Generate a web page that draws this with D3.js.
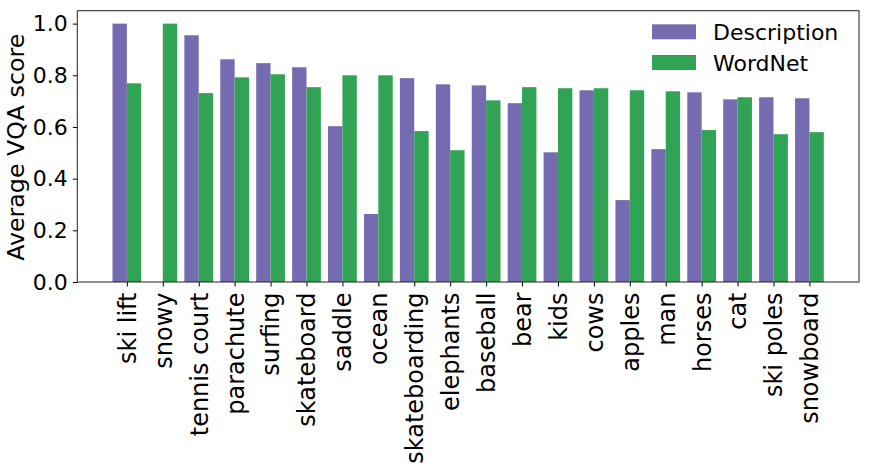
<!DOCTYPE html>
<html>
<head>
<meta charset="utf-8">
<script src="https://cdn.jsdelivr.net/npm/d3@7"></script>
<style>
  body { margin: 0; background: #fff; }
  svg { display: block; font-family: "DejaVu Sans", sans-serif; }
</style>
</head>
<body>
<svg id="chart" width="869" height="468"></svg>
<script>
const categories = ["ski lift", "snowy", "tennis court", "parachute", "surfing", "skateboard", "saddle", "ocean", "skateboarding", "elephants", "baseball", "bear", "kids", "cows", "apples", "man", "horses", "cat", "ski poles", "snowboard"];
const description = [1.0, 0.0, 0.955, 0.862, 0.847, 0.831, 0.603, 0.263, 0.789, 0.765, 0.761, 0.692, 0.502, 0.742, 0.317, 0.514, 0.734, 0.707, 0.715, 0.711];
const wordnet = [0.769, 1.0, 0.731, 0.792, 0.804, 0.754, 0.800, 0.800, 0.584, 0.510, 0.703, 0.754, 0.750, 0.750, 0.742, 0.738, 0.588, 0.715, 0.572, 0.580];
const seriesNames = ["Description", "WordNet"];
const yTicks = [0.0, 0.2, 0.4, 0.6, 0.8, 1.0];

const colors = ["#756bb1", "#31a354"];
const svg = d3.select("#chart");
const L = 77.3, R = 859, T = 10.7, B = 282;
const barW = 0.4;

const x = d3.scaleLinear().domain([-1.38, 20.38]).range([L, R]);
const y = d3.scaleLinear().domain([0, 1.05]).range([B, T]);

const series = [description, wordnet];
series.forEach((vals, s) => {
  svg.append("g").selectAll("rect").data(vals).join("rect")
    .attr("x", (d, i) => x(s === 0 ? i - barW : i))
    .attr("width", x(barW) - x(0))
    .attr("y", d => y(d))
    .attr("height", d => y(0) - y(d))
    .attr("fill", colors[s]);
});

// y axis
const yAxis = svg.append("g").attr("transform", `translate(${L},0)`)
  .call(d3.axisLeft(y).tickValues(yTicks).tickFormat(d3.format(".1f")).tickSize(4.5).tickPadding(5));
yAxis.select(".domain").remove();
yAxis.selectAll("text").attr("font-size", 22).attr("fill", "#000").attr("font-family", "DejaVu Sans");
yAxis.selectAll("line").attr("stroke", "#000");

// x axis
const xAxis = svg.append("g").attr("transform", `translate(0,${B})`)
  .call(d3.axisBottom(x).tickValues(d3.range(categories.length)).tickFormat(i => categories[i]).tickSize(4.5).tickPadding(5));
xAxis.select(".domain").remove();
xAxis.selectAll("line").attr("stroke", "#000");
xAxis.selectAll("text")
  .attr("font-size", 24).attr("fill", "#000").attr("font-family", "DejaVu Sans")
  .attr("transform", "rotate(-90)")
  .attr("text-anchor", "end")
  .attr("dy", "0.35em")
  .attr("x", -10.5)
  .attr("y", 0);

// frame
svg.append("rect").attr("x", L).attr("y", T).attr("width", R - L).attr("height", B - T)
  .attr("fill", "none").attr("stroke", "#222").attr("stroke-width", 1);

// y label
svg.append("text")
  .attr("transform", `translate(24,147.3) rotate(-90)`)
  .attr("text-anchor", "middle")
  .attr("font-size", 23.7)
  .attr("fill", "#000")
  .text("Average VQA score");

// legend
const lg = svg.append("g");
seriesNames.forEach((name, s) => {
  lg.append("rect").attr("x", 652).attr("y", 24.3 + s * 30.7).attr("width", 44).attr("height", 15).attr("fill", colors[s]);
  lg.append("text").attr("x", 713).attr("y", 40.3 + s * 30.7).attr("font-size", 22).attr("fill", "#000").text(name);
});
</script>
</body>
</html>
